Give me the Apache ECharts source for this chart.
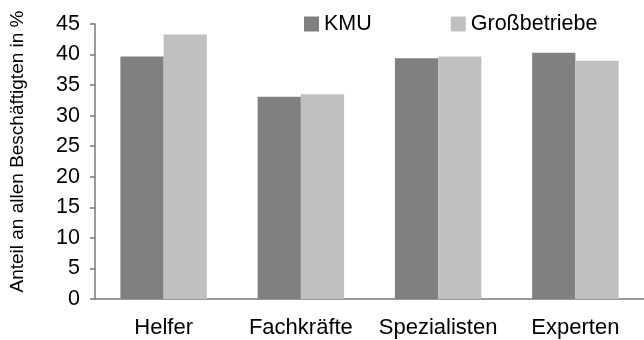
<!DOCTYPE html>
<html>
<head>
<meta charset="utf-8">
<script src="https://cdn.jsdelivr.net/npm/echarts@6/dist/echarts.min.js"></script>
<style>
html,body{margin:0;padding:0;background:#fff;}
#c{width:644px;height:340px;}
</style>
</head>
<body>
<div id="c"></div>
<script>
var categories = ['Helfer', 'Fachkräfte', 'Spezialisten', 'Experten'];
var kmu = [39.7, 33.1, 39.4, 40.3];
var gross = [43.3, 33.5, 39.7, 39.0];
var seriesNames = ['KMU', 'Großbetriebe'];
var yTicks = { min: 0, max: 45, interval: 5 };

var font = 'Liberation Sans, Arial, sans-serif';
var chart = echarts.init(document.getElementById('c'), null, { renderer: 'canvas' });
chart.setOption({
  animation: false,
  backgroundColor: '#ffffff',
  textStyle: { fontFamily: font },
  legend: {
    left: 304,
    top: 13,
    padding: 0,
    itemWidth: 15,
    itemHeight: 15,
    itemGap: 79,
    icon: 'rect',
    textStyle: { fontFamily: font, fontSize: 21.5, color: '#000', padding: [0, 0, 5, 0] },
    data: seriesNames
  },
  grid: { left: 89, right: -2, top: 24, bottom: 41, containLabel: false },
  xAxis: {
    type: 'category',
    data: categories,
    axisLine: { show: true, lineStyle: { color: '#7a7a7a', width: 1.5 } },
    axisTick: { show: false },
    axisLabel: { color: '#000', fontSize: 22, fontFamily: font, margin: 18, interval: 0 }
  },
  yAxis: {
    type: 'value',
    min: yTicks.min,
    max: yTicks.max,
    interval: yTicks.interval,
    name: 'Anteil an allen Beschäftigten in %',
    nameLocation: 'middle',
    nameRotate: 90,
    nameGap: 68,
    nameTextStyle: { color: '#000', fontSize: 19, fontFamily: font, padding: [0, 0, 0, 20] },
    axisLine: { show: true, lineStyle: { color: '#7a7a7a', width: 1.5 } },
    axisTick: { show: true, inside: false, length: 5, lineStyle: { color: '#7a7a7a', width: 1.5 } },
    axisLabel: { color: '#000', fontSize: 21.5, fontFamily: font, margin: 15 },
    splitLine: { show: false }
  },
  series: [
    { name: seriesNames[0], type: 'bar', data: kmu, barGap: '0%', barCategoryGap: '37%', itemStyle: { color: '#808080' } },
    { name: seriesNames[1], type: 'bar', data: gross, barGap: '0%', barCategoryGap: '37%', itemStyle: { color: '#c0c0c0' } }
  ]
});
</script>
</body>
</html>
